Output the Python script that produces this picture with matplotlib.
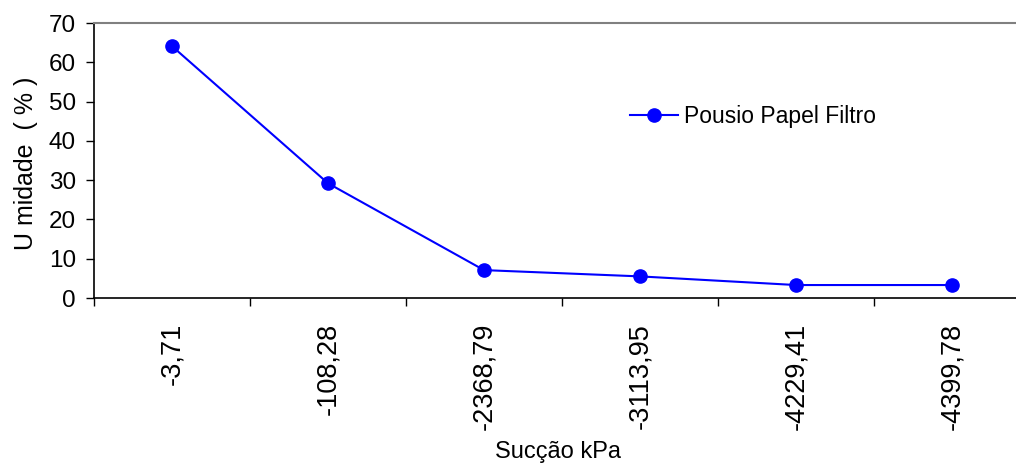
import matplotlib
matplotlib.use("Agg")
import matplotlib.pyplot as plt

categories = ["-3,71", "-108,28", "-2368,79", "-3113,95", "-4229,41", "-4399,78"]
umidade = [64.1, 29.2, 7.1, 5.5, 3.3, 3.3]
series_name = "Pousio Papel Filtro"

plt.rcParams['font.family'] = ['Liberation Sans', 'DejaVu Sans']

fig = plt.figure(figsize=(10.16, 4.69), dpi=100)
ax = fig.add_axes([94/1016, (469-298)/469, 936/1016, 275/469])

x = list(range(len(categories)))
ax.plot(x, umidade, color='#0000FF', lw=1.5, marker='o', markersize=9.5,
        label=series_name)

ax.set_xlim(-0.5, len(categories) - 0.5)
ax.set_ylim(0, 70)
ax.set_yticks(range(0, 71, 10))
ax.tick_params(axis='y', direction='out', length=6, width=1, pad=7,
               labelsize=17.5, color='black')

# major ticks at category boundaries (unlabelled), labels at minor positions
ax.set_xticks([i - 0.5 for i in range(len(categories) + 1)])
ax.set_xticklabels([])
ax.set_xticks(x, minor=True)
ax.set_xticklabels(categories, minor=True, rotation=90, fontsize=19.5)
ax.tick_params(axis='x', which='major', direction='out', length=6, width=1)
ax.tick_params(axis='x', which='minor', length=0, pad=18)

for s in ['left', 'bottom']:
    ax.spines[s].set_color('black')
    ax.spines[s].set_linewidth(1.2)
ax.spines['top'].set_color('#808080')
ax.spines['top'].set_linewidth(1.5)
ax.spines['right'].set_visible(False)

ax.set_ylabel("U midade  ( % )", fontsize=18)
ax.yaxis.set_label_coords(-0.06, 0.49)
ax.set_xlabel("Sucção kPa", fontsize=17)
ax.xaxis.set_label_coords(0.4955, -0.52)

leg = ax.legend(loc='center left', bbox_to_anchor=(536/936, (298-117)/275),
                frameon=False, handlelength=2.1, handletextpad=0.25,
                borderaxespad=0, borderpad=0,
                prop={'size': 16.5})

fig.savefig("out.png", dpi=100)
